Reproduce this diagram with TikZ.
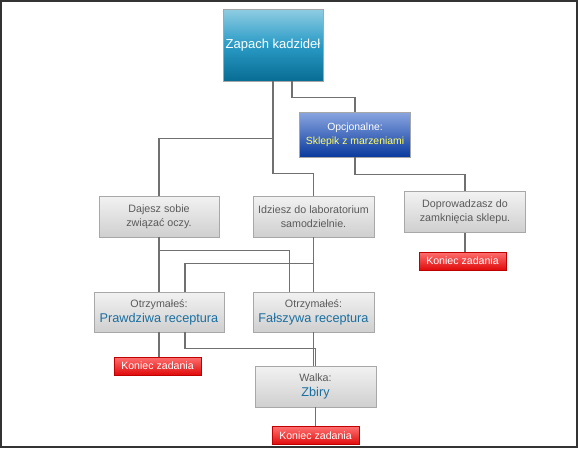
\documentclass[tikz,border=0pt]{standalone}
\usepackage{fontspec}
\setmainfont{Liberation Sans}
\definecolor{conncol}{HTML}{707070}
\definecolor{graytxt}{HTML}{5A5A5A}
\definecolor{bluetxt}{HTML}{1A6FA0}
\definecolor{grayedge}{HTML}{A8A8A8}
\definecolor{graytop}{HTML}{F2F2F2}
\definecolor{graybot}{HTML}{CFCFCF}
\definecolor{optyellow}{HTML}{FFFF66}
\definecolor{toptop}{HTML}{8FCDE2}
\definecolor{topmid}{HTML}{2A9BC6}
\definecolor{topbot}{HTML}{086C93}
\definecolor{opctop}{HTML}{8AA6E0}
\definecolor{opcbot}{HTML}{0A3A9E}
\definecolor{redtop}{HTML}{FF7070}
\definecolor{redbot}{HTML}{E00A0A}
\newcommand\bigblue[1]{{\color{bluetxt}\fontsize{12.7}{15}\selectfont #1}}
\tikzset{
  conn/.style={draw=conncol, line width=1.3pt},
  graybox/.style={draw=grayedge, line width=0.8pt, top color=graytop, bottom color=graybot,
    minimum height=41pt, inner sep=2pt, align=center, text=graytxt,
    font=\fontsize{10.7}{14}\selectfont},
  endbox/.style={draw=red!75!black, line width=0.6pt, top color=redtop, bottom color=redbot,
    minimum width=87pt, minimum height=18pt, inner sep=1pt, text=white,
    font=\fontsize{10.6}{12}\selectfont},
}
\begin{document}
\begin{tikzpicture}[x=1pt,y=-1pt]
\useasboundingbox (0,0) rectangle (580,450);
\draw[line width=2pt, color=black!80] (1,1) rectangle (577,447);

% nodes
\node[draw=gray!70, line width=0.6pt, top color=toptop, bottom color=topbot,
  middle color=topmid, minimum width=100pt, minimum height=72pt, inner sep=0pt,
  text=white, font=\fontsize{13}{15}\selectfont] (top) at (273,45) {Zapach kadzideł};
\node[draw=gray!70, line width=0.6pt, top color=opctop, bottom color=opcbot,
  minimum width=111pt, minimum height=45pt, inner sep=1pt, align=center,
  font=\fontsize{10.4}{14}\selectfont] (opc) at (355,134.5)
  {\textcolor{white}{Opcjonalne:}\\\textcolor{optyellow}{Sklepik z marzeniami}};
\node[graybox, minimum width=120pt] (daj) at (159,216.5) {Dajesz sobie\\związać oczy.};
\node[graybox, minimum width=121pt] (idz) at (313.5,216.5) {Idziesz do laboratorium\\samodzielnie.};
\node[graybox, minimum width=121pt] (dop) at (465,212) {Doprowadzasz do\\zamknięcia sklepu.};
\node[endbox] (end3) at (462.5,261) {Koniec zadania};
\node[graybox, minimum width=130pt, minimum height=40pt] (praw) at (159,312)
  {Otrzymałeś:\\[1pt]\bigblue{Prawdziwa receptura}};
\node[graybox, minimum width=121pt, minimum height=40pt] (fal) at (313.5,312)
  {Otrzymałeś:\\[1pt]\bigblue{Fałszywa receptura}};
\node[endbox] (end1) at (157.5,366) {Koniec zadania};
\node[graybox, minimum width=121pt] (wal) at (315.5,386.5) {Walka:\\[1pt]\bigblue{Zbiry}};
\node[endbox] (end2) at (315.5,435.5) {Koniec zadania};

% connectors
\draw[conn] (top.south) -- ++(0,92) -| (idz.north);
\draw[conn] (top.south) ++(0,57) -| (daj.north);
\draw[conn] ([xshift=19pt]top.south) -- ++(0,16) -| (opc.north);
\draw[conn] (opc.south) -- ++(0,17) -| (dop.north);
\draw[conn] (dop.south) -- (end3.north -| dop.south);
\draw[conn] (daj.south) -- (praw.north -| daj.south);
\draw[conn] (daj.south) ++(0,13) -| ([xshift=-24pt]fal.north);
\draw[conn] (idz.south) -- (fal.north);
\draw[conn] (idz.south) ++(0,26) -| ([xshift=26pt]praw.north);
\draw[conn] (praw.south) -- (end1.north -| praw.south);
\draw[conn] ([xshift=26pt]praw.south) -- ++(0,16) -| (wal.north);
\draw[conn] (fal.south) -- (wal.north -| fal.south);
\draw[conn] (wal.south) -- (end2.north);
\end{tikzpicture}
\end{document}
